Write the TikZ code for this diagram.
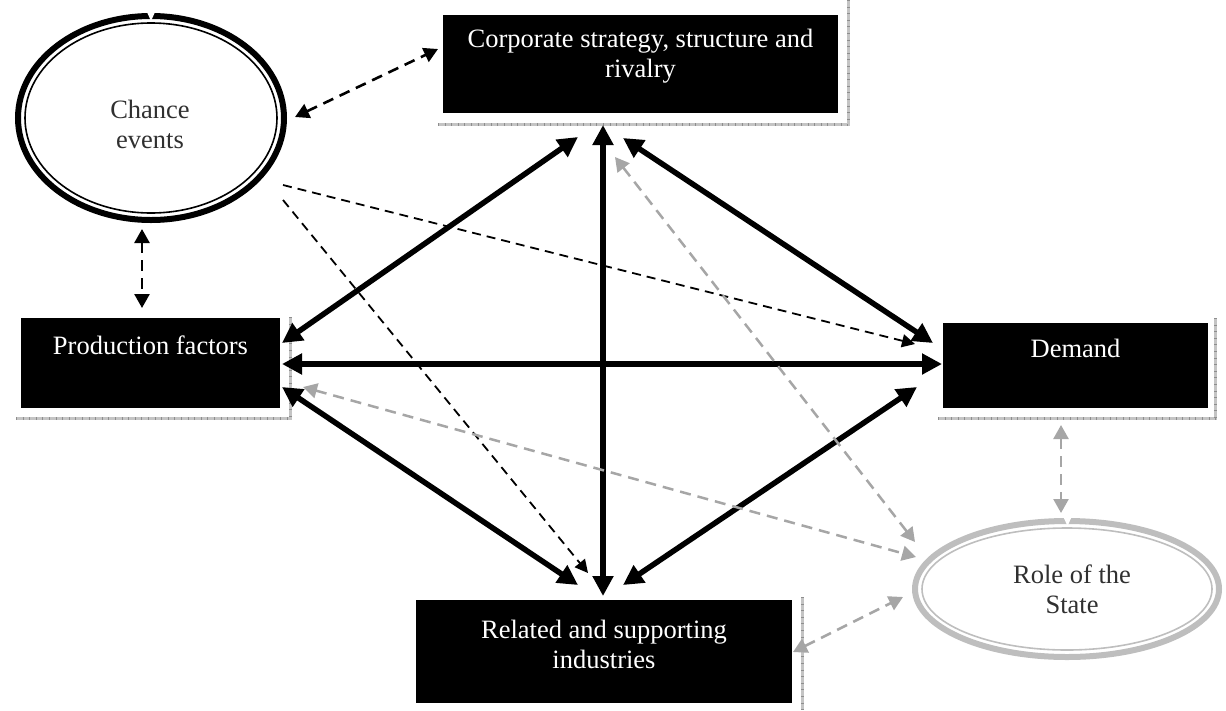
\documentclass[tikz,border=0pt]{standalone}
\usepackage{fontspec}
\setmainfont{Liberation Serif}
\usetikzlibrary{arrows.meta,shapes.geometric}
\definecolor{shadowgray}{HTML}{C4C4C4}
\definecolor{tickgray}{HTML}{8E8E8E}
\definecolor{lightarrow}{HTML}{A6A6A6}
\definecolor{rolegray}{HTML}{BEBEBE}
\definecolor{ink}{HTML}{303030}

\begin{document}
\begin{tikzpicture}[x=1pt,y=-1pt,
  box/.style={fill=black, inner sep=0pt},
  boxtext/.style={text=white, align=center, inner sep=0pt, font=\fontsize{26.5}{30}\selectfont},
  ringtext/.style={text=ink, align=center, inner sep=0pt, font=\fontsize{26.5}{30}\selectfont},
  shade/.style={shadowgray, line width=3pt},
  shadeticks/.style={tickgray, line width=3pt, dash pattern=on 0.6pt off 6pt},
  strong/.style={line width=5.5pt, {Triangle[length=20pt,width=20pt]}-{Triangle[length=20pt,width=20pt]}},
  chancelink/.style={line width=2.6pt, dash pattern=on 11pt off 7pt},
  thinlink/.style={line width=1.8pt, dash pattern=on 9pt off 6pt},
  greylink/.style={lightarrow, line width=2.5pt, dash pattern=on 11pt off 7pt},
  tips/.style={{Triangle[length=14pt,width=15pt]}-{Triangle[length=14pt,width=15pt]}},
  endtip/.style={-{Triangle[length=13pt,width=13pt]}}
]
\useasboundingbox (0,0) rectangle (1226,710);

% drop shadows of the boxes
\foreach \a/\b in {{(438,124)}/{(850,124)}, {(848,0)}/{(848,124)},
                   {(16,418)}/{(292,418)}, {(290,317)}/{(290,418)},
                   {(938,418)}/{(1217,418)}, {(1215,318)}/{(1215,418)},
                   {(802,597)}/{(802,710)}}{
  \draw[shade] \a -- \b;
  \draw[shadeticks] \a -- \b;
}

% the four determinants
\node[box, minimum width=395pt, minimum height=98pt] (strat) at (640.5,64) {};
\node[boxtext] (stratT) at (640.5,56) {Corporate strategy, structure and\\rivalry};

\node[box, minimum width=259pt, minimum height=90pt] (prod) at (150.5,363) {};
\node[boxtext] (prodT) at (150.5,345) {Production factors};

\node[box, minimum width=265pt, minimum height=85pt] (dem) at (1075.5,365.5) {};
\node[boxtext] (demT) at (1075.5,348) {Demand};

\node[box, minimum width=376pt, minimum height=103pt] (rel) at (604,651.5) {};
\node[boxtext] (relT) at (604,644) {Related and supporting\\industries};

% outside influences
\node[ellipse, draw=black, line width=6pt, minimum width=266pt, minimum height=204pt, inner sep=0pt] (chance) at (151,118) {};
\draw[line width=1.6pt] (chance.center) ellipse [x radius=126, y radius=95];
\fill[white] (146.5,11) -- (155.5,11) -- (151,21) -- cycle;
\node[ringtext] (chanceT) at (150,124) {Chance\\events};

\node[ellipse, draw=rolegray, line width=6pt, minimum width=304pt, minimum height=136pt, inner sep=0pt] (role) at (1067,589) {};
\draw[rolegray, line width=1.6pt] (role.center) ellipse [x radius=145, y radius=61];
\fill[white] (1063,516) -- (1072,516) -- (1067.5,526) -- cycle;
\node[ringtext] (roleT) at (1072,589) {Role of the\\State};

% links between the determinants
\draw[strong] ([shift={(-62.5,73)}]strat.center) -- ([shift={(131.5,-20)}]prod.center);
\draw[strong] ([shift={(-37.5,61)}]strat.center) -- ([shift={(-1,-55.5)}]rel.center);
\draw[strong] ([shift={(-17.5,74)}]strat.center) -- ([shift={(-142.5,-22.5)}]dem.center);
\draw[strong] ([shift={(131.5,1)}]prod.center) -- ([shift={(-133.5,-1.5)}]dem.center);
\draw[strong] ([shift={(131.5,24)}]prod.center) -- ([shift={(-26,-66.5)}]rel.center);
\draw[strong] ([shift={(-158.5,21.5)}]dem.center) -- ([shift={(19,-66.5)}]rel.center);

% chance events
\draw[chancelink, tips] ([shift={(144,-1)}]chance.center) -- ([shift={(-202.5,-15)}]strat.center);
\draw[chancelink, tips] ([shift={(-9,111)}]chance.center) -- ([shift={(-8.5,-55)}]prod.center);
\draw[thinlink, endtip] ([shift={(132,67)}]chance.center) -- ([shift={(-160.5,-21.5)}]dem.center);
\draw[thinlink, endtip] ([shift={(132,82)}]chance.center) -- ([shift={(-16,-78.5)}]rel.center);

% role of the state
\draw[greylink, tips] ([shift={(-25.5,93)}]strat.center) -- ([shift={(-152,-47)}]role.center);
\draw[greylink, tips] ([shift={(152.5,24)}]prod.center) -- ([shift={(-151,-32)}]role.center);
\draw[greylink, tips] ([shift={(-14.5,59.5)}]dem.center) -- ([shift={(-6,-76)}]role.center);
\draw[greylink, tips] ([shift={(189,0.5)}]rel.center) -- ([shift={(-164,8)}]role.center);
\end{tikzpicture}
\end{document}
